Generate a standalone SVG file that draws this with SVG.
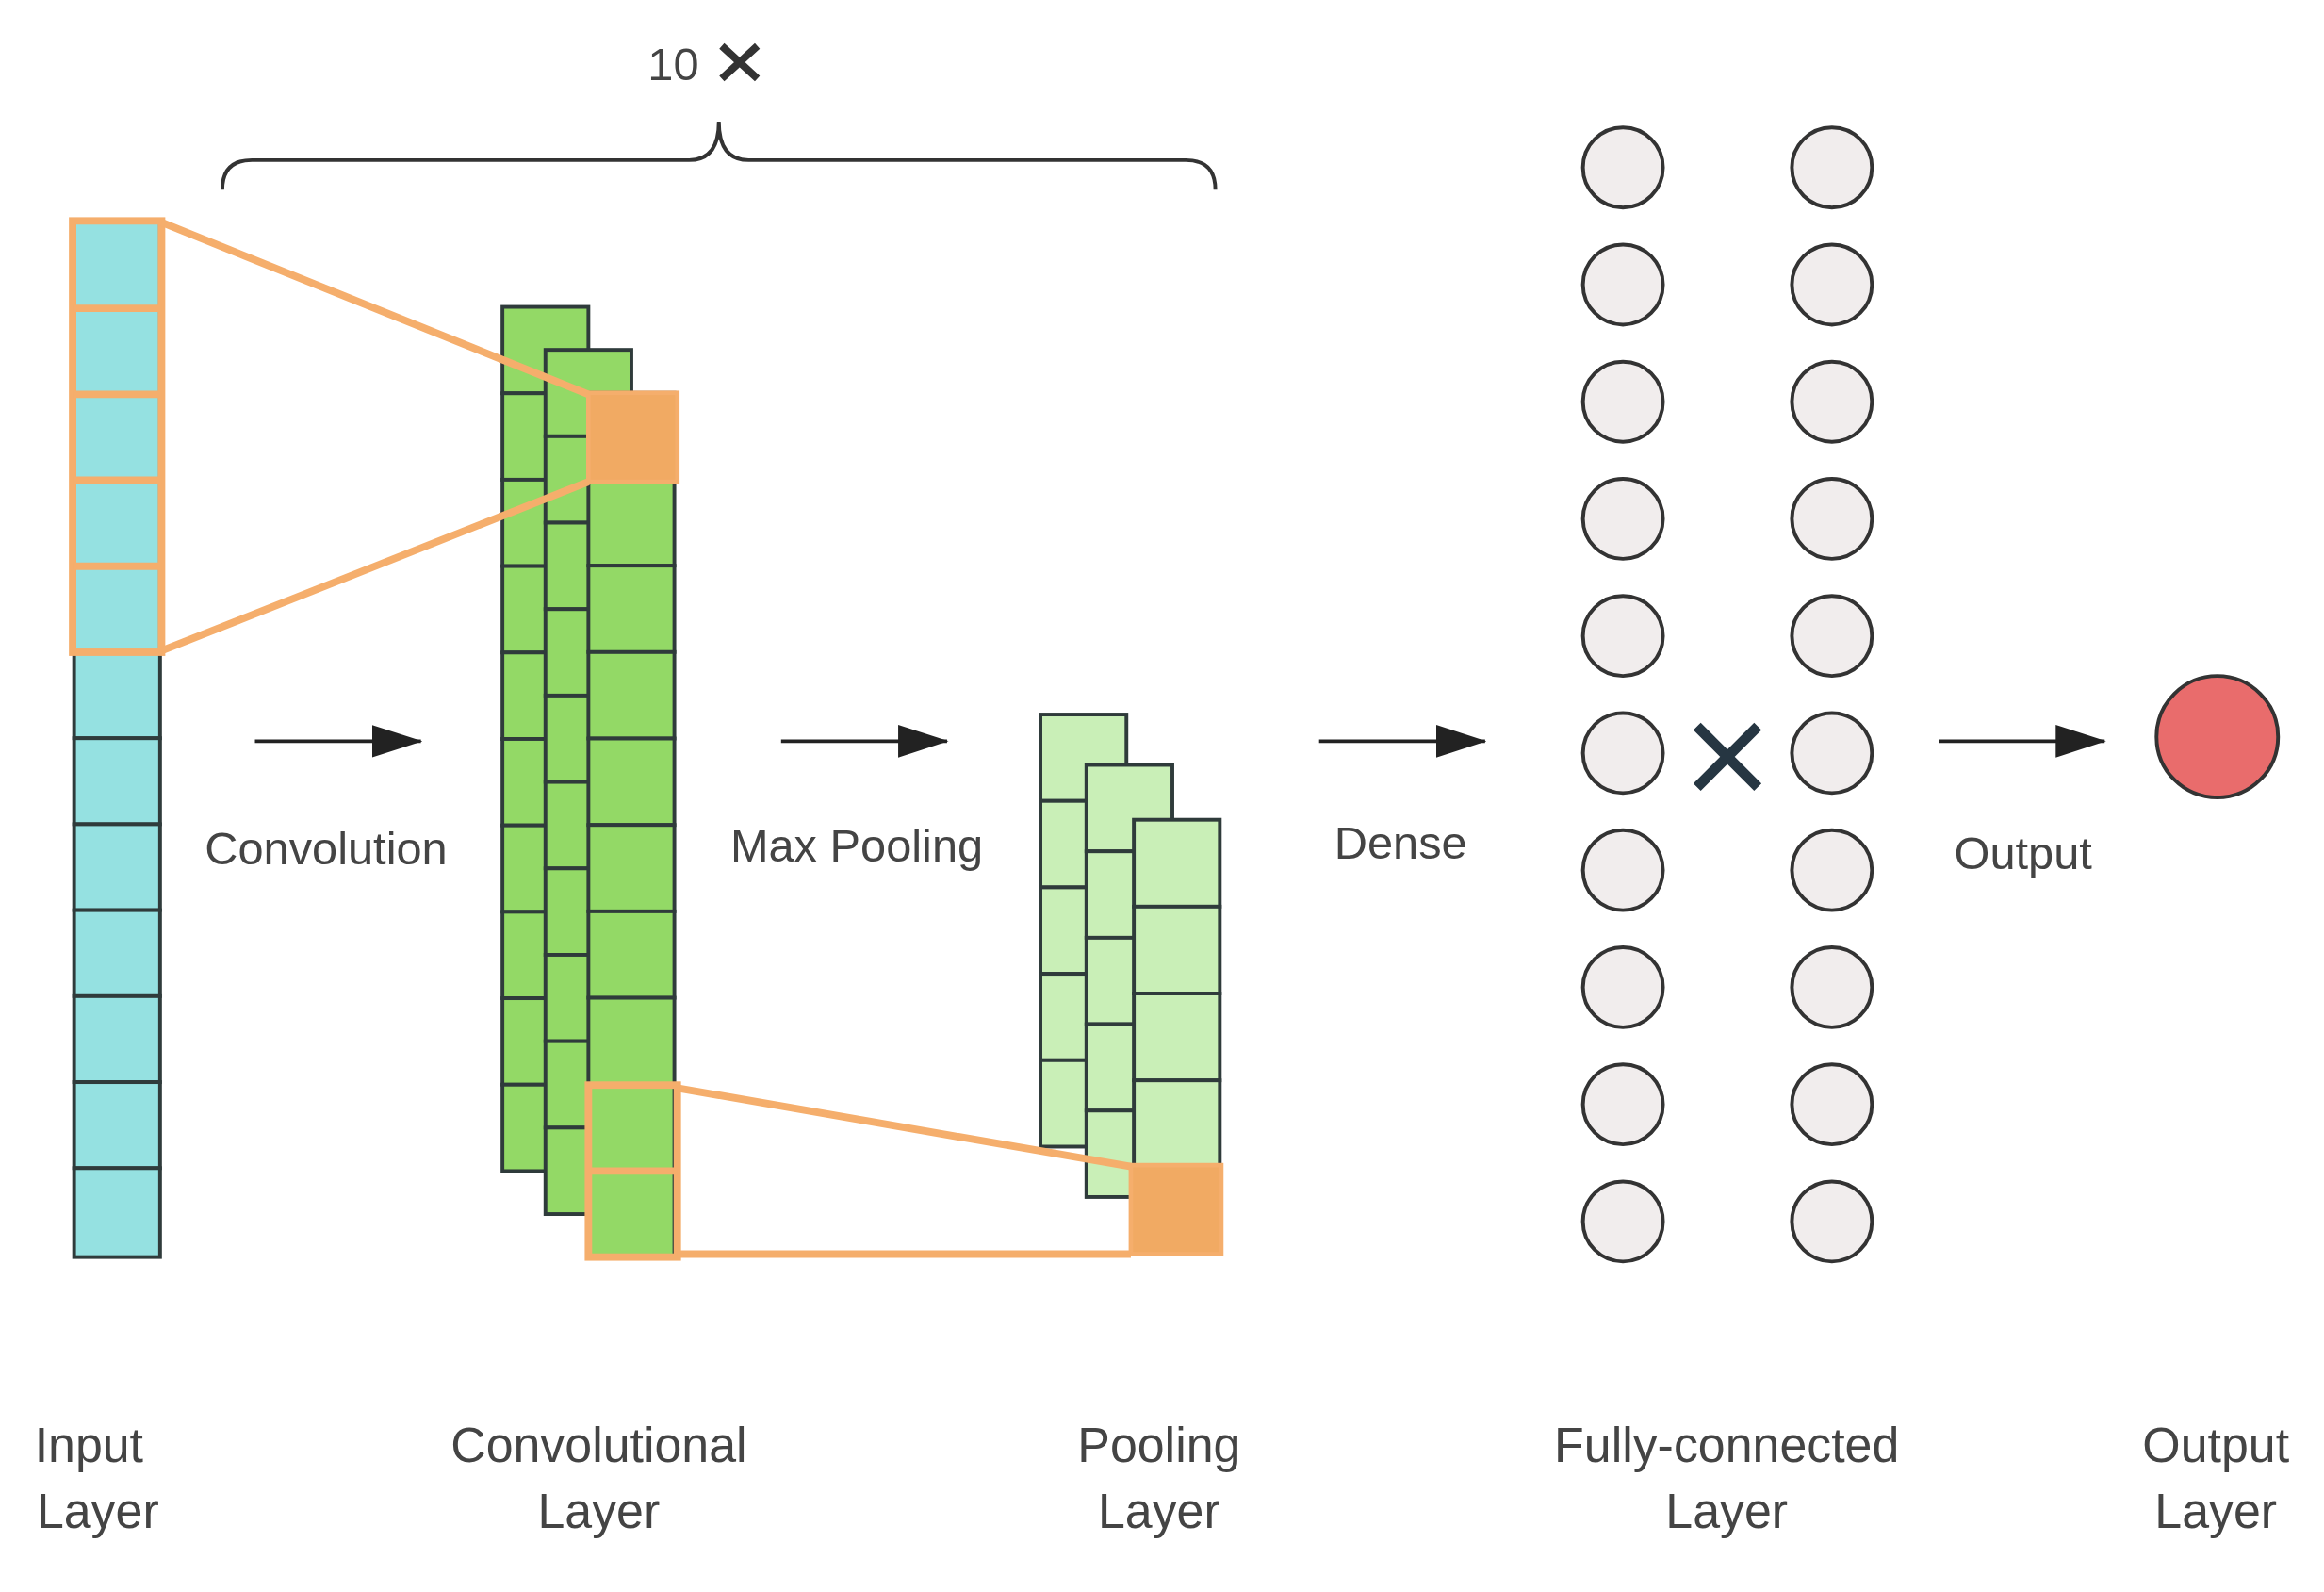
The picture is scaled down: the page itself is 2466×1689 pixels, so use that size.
<svg xmlns="http://www.w3.org/2000/svg" width="2466" height="1689" viewBox="0 0 2466 1689">
<defs>
<style>
.c{fill:#95e1e1;stroke:#2f3b3b;stroke-width:2.5}
.g{fill:#93d966;stroke:#2f3b3b;stroke-width:2.5}
.p{fill:#c9efb7;stroke:#2f3b3b;stroke-width:2.5}
.o{fill:none;stroke:#f5ae6c;stroke-width:5}
.of{fill:#f1aa63;stroke:#f5ae6c;stroke-width:3}
.n{fill:#f1eded;stroke:#333;stroke-width:2.5}
.a{stroke:#222;stroke-width:2.5;fill:none}
.t{font-family:"Liberation Sans",Arial,sans-serif;font-size:31px;fill:#444}
.l{font-family:"Liberation Sans",Arial,sans-serif;font-size:33px;fill:#444;text-anchor:middle}
</style>
<marker id="ar" markerWidth="12" markerHeight="10" refX="11" refY="5" orient="auto" markerUnits="userSpaceOnUse"><path d="M0,0L34,5L0,10z" transform="scale(0.35,1)" fill="#222"/></marker>
<marker id="ah" markerWidth="34" markerHeight="22" refX="33" refY="11" orient="auto" markerUnits="userSpaceOnUse"><path d="M0,0L34,11L0,22z" fill="#222"/></marker>
</defs>
<rect width="2466" height="1689" fill="#fff"/>
<g transform="scale(1.5727)">
<g id="input">
<rect class="c" x="50" y="150" width="58" height="58"/><rect class="c" x="50" y="208" width="58" height="58"/><rect class="c" x="50" y="266" width="58" height="58"/><rect class="c" x="50" y="324" width="58" height="58"/><rect class="c" x="50" y="382" width="58" height="58"/><rect class="c" x="50" y="440" width="58" height="58"/><rect class="c" x="50" y="498" width="58" height="58"/><rect class="c" x="50" y="556" width="58" height="58"/><rect class="c" x="50" y="614" width="58" height="58"/><rect class="c" x="50" y="672" width="58" height="58"/><rect class="c" x="50" y="730" width="58" height="58"/><rect class="c" x="50" y="788" width="58" height="60"/>
<rect class="o" x="49" y="149" width="60" height="291"/>
<line class="o" x1="49" y1="208" x2="109" y2="208"/><line class="o" x1="49" y1="266" x2="109" y2="266"/><line class="o" x1="49" y1="324" x2="109" y2="324"/><line class="o" x1="49" y1="382" x2="109" y2="382"/>
</g>
<g id="conv">
<g class="g">
<rect x="339" y="207" width="58" height="58.3"/><rect x="339" y="265.3" width="58" height="58.3"/><rect x="339" y="323.6" width="58" height="58.3"/><rect x="339" y="381.9" width="58" height="58.3"/><rect x="339" y="440.2" width="58" height="58.3"/><rect x="339" y="498.5" width="58" height="58.3"/><rect x="339" y="556.8" width="58" height="58.3"/><rect x="339" y="615.1" width="58" height="58.3"/><rect x="339" y="673.4" width="58" height="58.3"/><rect x="339" y="731.7" width="58" height="58.3"/>
<rect x="368" y="236" width="58" height="58.3"/><rect x="368" y="294.3" width="58" height="58.3"/><rect x="368" y="352.6" width="58" height="58.3"/><rect x="368" y="410.9" width="58" height="58.3"/><rect x="368" y="469.2" width="58" height="58.3"/><rect x="368" y="527.5" width="58" height="58.3"/><rect x="368" y="585.8" width="58" height="58.3"/><rect x="368" y="644.1" width="58" height="58.3"/><rect x="368" y="702.4" width="58" height="58.3"/><rect x="368" y="760.7" width="58" height="58.3"/>
<rect x="397" y="265" width="58" height="58.3"/><rect x="397" y="323.3" width="58" height="58.3"/><rect x="397" y="381.6" width="58" height="58.3"/><rect x="397" y="439.9" width="58" height="58.3"/><rect x="397" y="498.2" width="58" height="58.3"/><rect x="397" y="556.5" width="58" height="58.3"/><rect x="397" y="614.8" width="58" height="58.3"/><rect x="397" y="673.1" width="58" height="58.3"/><rect x="397" y="731.4" width="58" height="58.3"/><rect x="397" y="789.7" width="58" height="58.3"/>
</g>
<rect class="of" x="397" y="265" width="60" height="60"/>
<rect class="o" x="397" y="732" width="60" height="116"/>
<line class="o" x1="397" y1="790" x2="457" y2="790"/>
</g>
<g id="pool">
<g class="p">
<rect x="702" y="482" width="58" height="58.3"/><rect x="702" y="540.3" width="58" height="58.3"/><rect x="702" y="598.6" width="58" height="58.3"/><rect x="702" y="656.9" width="58" height="58.3"/><rect x="702" y="715.2" width="58" height="58.3"/>
<rect x="733" y="516" width="58" height="58.3"/><rect x="733" y="574.3" width="58" height="58.3"/><rect x="733" y="632.6" width="58" height="58.3"/><rect x="733" y="690.9" width="58" height="58.3"/><rect x="733" y="749.2" width="58" height="58.3"/>
<rect x="765" y="553" width="58" height="58.6"/><rect x="765" y="611.6" width="58" height="58.6"/><rect x="765" y="670.2" width="58" height="58.6"/><rect x="765" y="728.8" width="58" height="58.6"/><rect x="765" y="787.4" width="58" height="58.6"/>
</g>
<rect class="of" x="763" y="786" width="61" height="60"/>
</g>
<g id="connectors">
<line class="o" x1="109" y1="150" x2="397" y2="266"/>
<line class="o" x1="109" y1="439" x2="397" y2="325"/>
<line class="o" x1="457" y1="734" x2="763" y2="787"/>
<line class="o" x1="457" y1="846" x2="763" y2="846"/>
<line class="a" x1="172" y1="500" x2="284" y2="500" marker-end="url(#ah)"/>
<line class="a" x1="527" y1="500" x2="639" y2="500" marker-end="url(#ah)"/>
<line class="a" x1="890" y1="500" x2="1002" y2="500" marker-end="url(#ah)"/>
<line class="a" x1="1308" y1="500" x2="1420" y2="500" marker-end="url(#ah)"/>
</g>
<g id="brace">
<path d="M150,128 Q150,108 170,108 L465,108 Q485,108 485,82 Q485,108 505,108 L800,108 Q820,108 820,128" fill="none" stroke="#333" stroke-width="2.5"/>
<text class="t" x="437" y="54">10</text>
<path d="M487,31L511,53M511,31L487,53" stroke="#333" stroke-width="5"/>
</g>
<g id="fc">
<g class="n">
<circle cx="1095" cy="113" r="27"/><circle cx="1095" cy="192" r="27"/><circle cx="1095" cy="271" r="27"/><circle cx="1095" cy="350" r="27"/><circle cx="1095" cy="429" r="27"/><circle cx="1095" cy="508" r="27"/><circle cx="1095" cy="587" r="27"/><circle cx="1095" cy="666" r="27"/><circle cx="1095" cy="745" r="27"/><circle cx="1095" cy="824" r="27"/>
<circle cx="1236" cy="113" r="27"/><circle cx="1236" cy="192" r="27"/><circle cx="1236" cy="271" r="27"/><circle cx="1236" cy="350" r="27"/><circle cx="1236" cy="429" r="27"/><circle cx="1236" cy="508" r="27"/><circle cx="1236" cy="587" r="27"/><circle cx="1236" cy="666" r="27"/><circle cx="1236" cy="745" r="27"/><circle cx="1236" cy="824" r="27"/>
</g>
<path d="M1145,490L1186,531M1186,490L1145,531" stroke="#263642" stroke-width="7"/>
</g>
<g id="output">
<circle cx="1496" cy="497" r="41" fill="#e96c6c" stroke="#333" stroke-width="2.5"/>
</g>
<g id="labels">
<text class="t" x="220" y="583" text-anchor="middle">Convolution</text>
<text class="t" x="578" y="581" text-anchor="middle">Max Pooling</text>
<text class="t" x="945" y="579" text-anchor="middle">Dense</text>
<text class="t" x="1365" y="586" text-anchor="middle">Output</text>
<text class="l" x="60" y="986">Input</text><text class="l" x="66" y="1031">Layer</text>
<text class="l" x="404" y="986">Convolutional</text><text class="l" x="404" y="1031">Layer</text>
<text class="l" x="782" y="986">Pooling</text><text class="l" x="782" y="1031">Layer</text>
<text class="l" x="1165" y="986">Fully-connected</text><text class="l" x="1165" y="1031">Layer</text>
<text class="l" x="1495" y="986">Output</text><text class="l" x="1495" y="1031">Layer</text>
</g>
</g>
</svg>
